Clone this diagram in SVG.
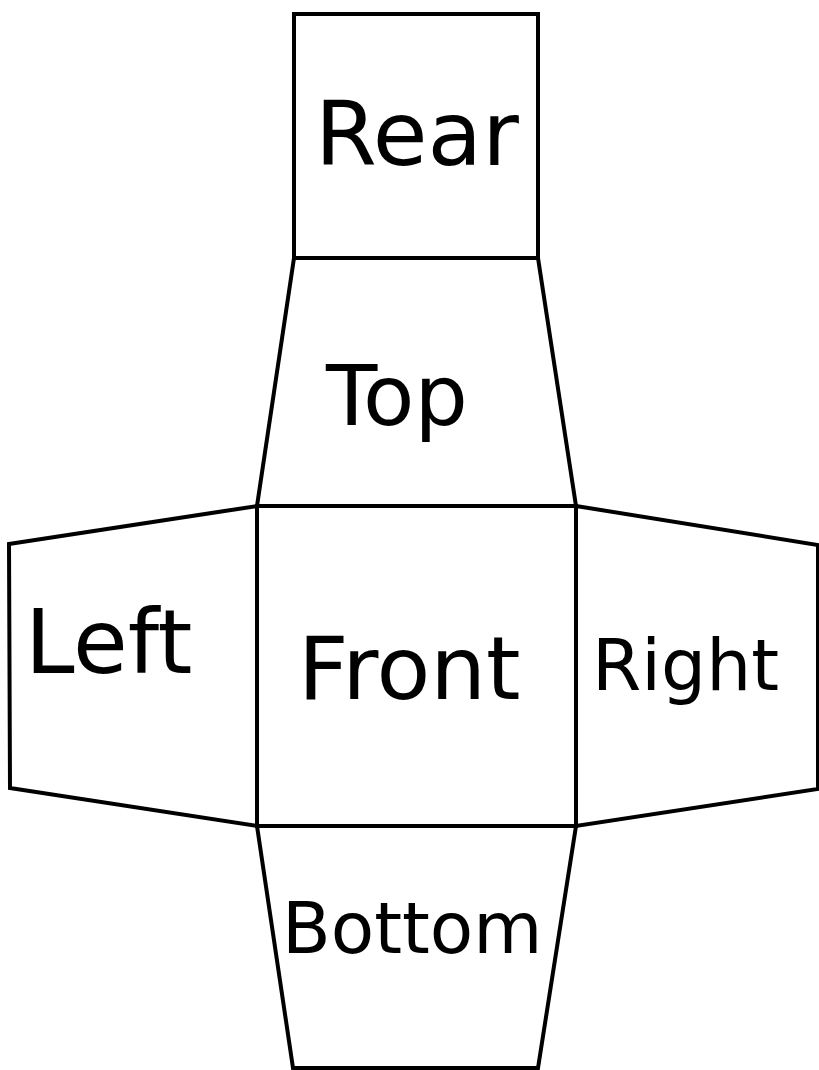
<svg xmlns="http://www.w3.org/2000/svg" width="819" height="1070" viewBox="0 0 819 1070">
<style>
.face{fill:#fff;stroke:#000;stroke-width:4;stroke-linejoin:miter}
.lbl{font-family:"DejaVu Sans",sans-serif;fill:#000}
</style>
<rect width="819" height="1070" fill="#fff"/>
<g id="rear"><polygon class="face" points="294,14 538,14 538,258 294,258"/><text class="lbl" x="315" y="165" font-size="89">Rear</text></g>
<g id="top"><polygon class="face" points="294,258 538,258 576,506 257,506"/><text class="lbl" x="326" y="425" font-size="84">Top</text></g>
<g id="left"><polygon class="face" points="257,506 9,544 10,788 257,826"/><text class="lbl" x="25" y="673" font-size="89">Left</text></g>
<g id="front"><polygon class="face" points="257,506 576,506 576,826 257,826"/><text class="lbl" x="298" y="699" font-size="88">Front</text></g>
<g id="right"><polygon class="face" points="576,506 818,545 818,789 576,826"/><text class="lbl" x="592" y="690" font-size="71">Right</text></g>
<g id="bottom"><polygon class="face" points="257,826 576,826 538,1068 293,1068"/><text class="lbl" x="282" y="953" font-size="71">Bottom</text></g>
<g id="connectors"></g>
</svg>
